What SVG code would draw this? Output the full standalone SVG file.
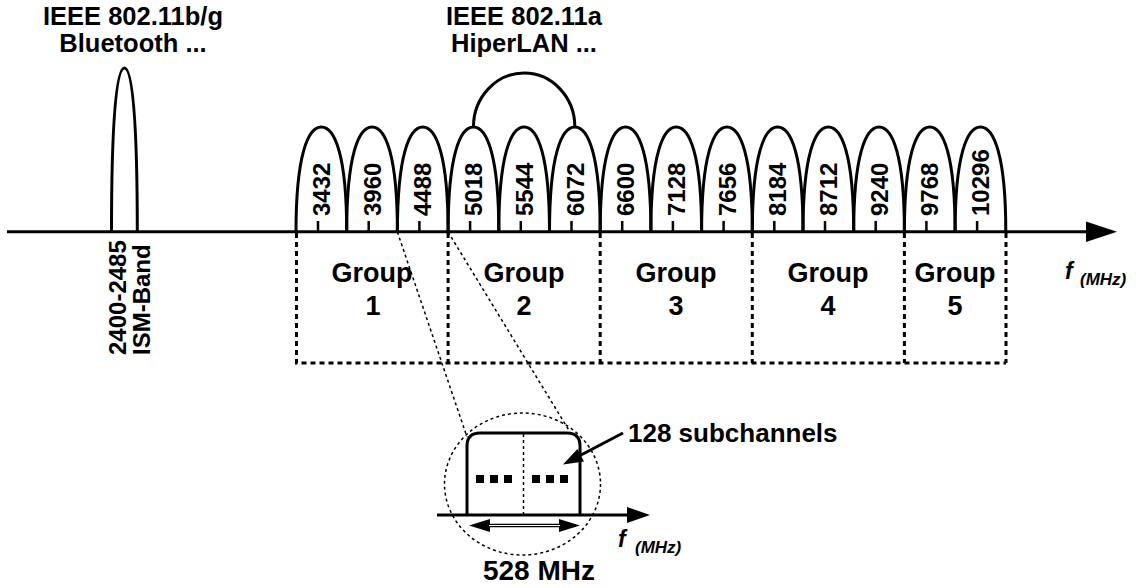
<svg xmlns="http://www.w3.org/2000/svg" xmlns:xlink="http://www.w3.org/1999/xlink" width="1136" height="588" viewBox="0 0 1136 588">
<style>
text{font-family:"Liberation Sans",Arial,sans-serif;font-weight:bold;fill:#000}
.t25{font-size:25.5px}
.t26{font-size:26px}
.grp{font-size:27px}
.ch{font-size:24px}
.fi{font-style:italic}
.ln{fill:none;stroke:#000;stroke-width:3}
.tk{stroke:#000;stroke-width:2.5}
.dash{fill:none;stroke:#000;stroke-width:3;stroke-dasharray:5 4}
.dot{fill:none;stroke:#000;stroke-width:1.5;stroke-dasharray:3 3}
</style>
<defs>
<path id="bump" d="M0 232 C0 155 12 127 25.35 127 C38.7 127 50.7 155 50.7 232" class="ln"/>
</defs>
<rect width="1136" height="588" fill="#fff"/>

<g id="connectors">
<line class="ln" x1="7" y1="231.7" x2="1090" y2="231.7"/>
<polygon points="1086,221.5 1117,231.7 1086,241.9" fill="#000"/>
<line class="dot" x1="397.4" y1="232" x2="467" y2="437"/>
<line class="dot" x1="448.1" y1="232" x2="570" y2="432"/>
<line class="ln" x1="623" y1="433" x2="580" y2="455.5"/>
<polygon points="563,464.5 584,461.4 577.4,449" fill="#000"/>
</g>

<g id="ism-band">
<path class="ln" d="M111.5 232 C111.5 130 115.5 68 124.4 68 C133.3 68 137.3 130 137.3 232"/>
<text class="t25" x="133" y="25" text-anchor="middle">IEEE 802.11b/g</text>
<text class="t25" x="133" y="52" text-anchor="middle">Bluetooth ...</text>
<text class="ch" transform="translate(126,355) rotate(-90)">2400-2485</text>
<text class="ch" transform="translate(150,355) rotate(-90)">ISM-Band</text>
</g>

<g id="channels">
<use xlink:href="#bump" href="#bump" x="296"/>
<use xlink:href="#bump" href="#bump" x="346.7"/>
<use xlink:href="#bump" href="#bump" x="397.4"/>
<use xlink:href="#bump" href="#bump" x="448.1"/>
<use xlink:href="#bump" href="#bump" x="498.8"/>
<use xlink:href="#bump" href="#bump" x="549.5"/>
<use xlink:href="#bump" href="#bump" x="600.2"/>
<use xlink:href="#bump" href="#bump" x="650.9"/>
<use xlink:href="#bump" href="#bump" x="701.6"/>
<use xlink:href="#bump" href="#bump" x="752.3"/>
<use xlink:href="#bump" href="#bump" x="803"/>
<use xlink:href="#bump" href="#bump" x="853.7"/>
<use xlink:href="#bump" href="#bump" x="904.4"/>
<use xlink:href="#bump" href="#bump" x="955.1"/>
<g class="tk">
<line x1="318" y1="221" x2="318" y2="232"/>
<line x1="368.7" y1="221" x2="368.7" y2="232"/>
<line x1="419.4" y1="221" x2="419.4" y2="232"/>
<line x1="470.1" y1="221" x2="470.1" y2="232"/>
<line x1="520.8" y1="221" x2="520.8" y2="232"/>
<line x1="571.5" y1="221" x2="571.5" y2="232"/>
<line x1="622.2" y1="221" x2="622.2" y2="232"/>
<line x1="672.9" y1="221" x2="672.9" y2="232"/>
<line x1="723.6" y1="221" x2="723.6" y2="232"/>
<line x1="774.3" y1="221" x2="774.3" y2="232"/>
<line x1="825" y1="221" x2="825" y2="232"/>
<line x1="875.7" y1="221" x2="875.7" y2="232"/>
<line x1="926.4" y1="221" x2="926.4" y2="232"/>
<line x1="977.1" y1="221" x2="977.1" y2="232"/>
</g>
<text class="ch" transform="translate(330,216) rotate(-90)">3432</text>
<text class="ch" transform="translate(380.7,216) rotate(-90)">3960</text>
<text class="ch" transform="translate(431.4,216) rotate(-90)">4488</text>
<text class="ch" transform="translate(482.1,216) rotate(-90)">5018</text>
<text class="ch" transform="translate(532.8,216) rotate(-90)">5544</text>
<text class="ch" transform="translate(583.5,216) rotate(-90)">6072</text>
<text class="ch" transform="translate(634.2,216) rotate(-90)">6600</text>
<text class="ch" transform="translate(684.9,216) rotate(-90)">7128</text>
<text class="ch" transform="translate(735.6,216) rotate(-90)">7656</text>
<text class="ch" transform="translate(786.3,216) rotate(-90)">8184</text>
<text class="ch" transform="translate(837,216) rotate(-90)">8712</text>
<text class="ch" transform="translate(887.7,216) rotate(-90)">9240</text>
<text class="ch" transform="translate(938.4,216) rotate(-90)">9768</text>
<text class="ch" transform="translate(989.1,216) rotate(-90)">10296</text>
</g>

<g id="ieee-80211a">
<path class="ln" d="M473.45 127 A50.7 54 0 0 1 574.85 127"/>
<text class="t25" x="524" y="25" text-anchor="middle">IEEE 802.11a</text>
<text class="t25" x="524" y="52" text-anchor="middle">HiperLAN ...</text>
</g>

<g id="groups">
<path class="dash" d="M296.5 233 V363 H1006 M448.1 233 V363 M600.2 233 V363 M752.3 233 V363 M904.4 233 V363 M1006 233 V363"/>
<text class="grp" x="372" y="282" text-anchor="middle">Group</text>
<text class="grp" x="373" y="315" text-anchor="middle">1</text>
<text class="grp" x="524" y="282" text-anchor="middle">Group</text>
<text class="grp" x="524" y="315" text-anchor="middle">2</text>
<text class="grp" x="676" y="282" text-anchor="middle">Group</text>
<text class="grp" x="676" y="315" text-anchor="middle">3</text>
<text class="grp" x="828" y="282" text-anchor="middle">Group</text>
<text class="grp" x="828" y="315" text-anchor="middle">4</text>
<text class="grp" x="955" y="282" text-anchor="middle">Group</text>
<text class="grp" x="955" y="315" text-anchor="middle">5</text>
</g>

<g id="axis-label">
<text class="fi" x="1065" y="279" font-size="23">f</text>
<text class="fi" x="1080" y="285" font-size="17">(MHz)</text>
</g>

<g id="inset">
<ellipse class="dot" cx="522.5" cy="484" rx="78" ry="71"/>
<line class="ln" x1="437" y1="515" x2="630" y2="515"/>
<polygon points="627,507 650,515 627,523" fill="#000"/>
<path class="ln" d="M467 515 V446 Q467 433 480 433 H567 Q580 433 580 446 V515"/>
<line class="dot" x1="523.5" y1="434" x2="523.5" y2="514"/>
<g fill="#000">
<rect x="476" y="475" width="8" height="8"/>
<rect x="490" y="475" width="8" height="8"/>
<rect x="504" y="475" width="8" height="8"/>
<rect x="532" y="475" width="8" height="8"/>
<rect x="546" y="475" width="8" height="8"/>
<rect x="560" y="475" width="8" height="8"/>
<polygon points="469,525.5 490,519 490,532"/>
<polygon points="580,525.5 559,519 559,532"/>
</g>
<line x1="488" y1="525.5" x2="561" y2="525.5" stroke="#000" stroke-width="3.5"/>
<line x1="489" y1="525.5" x2="560" y2="525.5" stroke="#fff" stroke-width="1"/>
<text class="fi" x="618" y="547" font-size="23">f</text>
<text class="fi" x="635" y="553" font-size="17">(MHz)</text>
<text x="539" y="580" text-anchor="middle" font-size="28">528 MHz</text>
<text class="t26" x="628" y="442">128 subchannels</text>
</g>
</svg>
